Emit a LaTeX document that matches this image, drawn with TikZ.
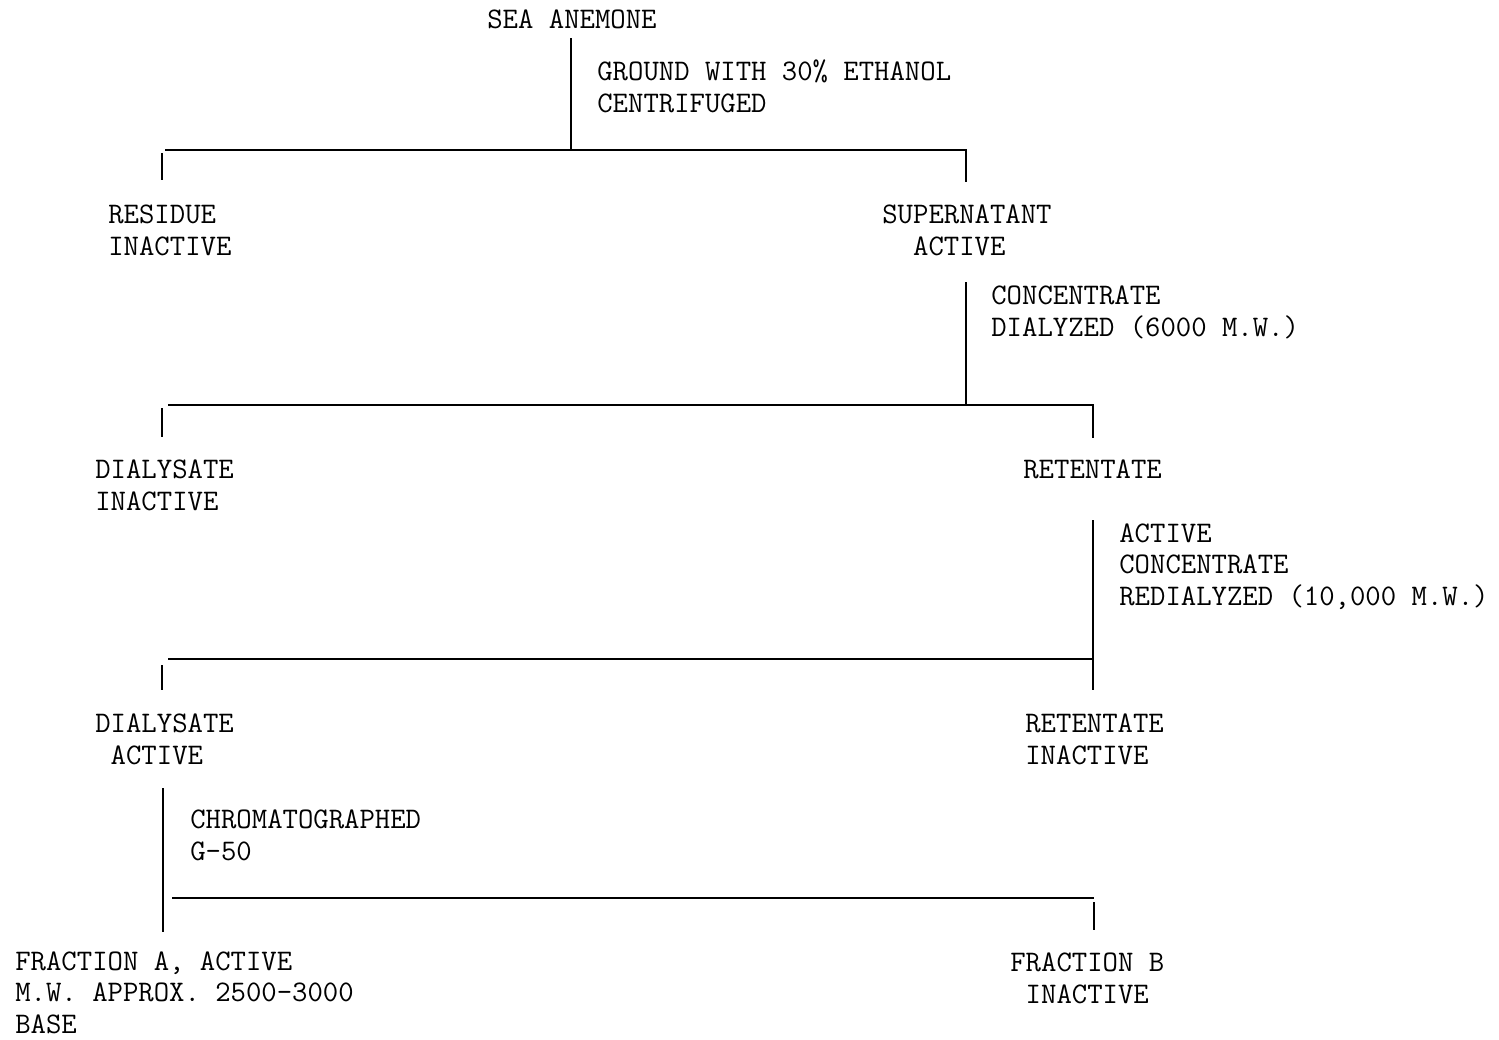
\documentclass[tikz,border=0pt]{standalone}
\usepackage{fontspec}
\usetikzlibrary{calc}
\tikzset{
    paso/.style={
        font=\fontsize{17}{17.9}\selectfont\ttfamily,
        inner sep=0pt, align=left, anchor=base west
    },
    rama/.style={line width=0.9pt}
}

\begin{document}
\begin{tikzpicture}[x=0.02cm, y=-0.02cm]
    \useasboundingbox (0,0) rectangle (1499,1039);

    % Productos de cada paso (base = ultima linea)
    \node[paso] (anemona) at (487,28) {SEA ANEMONE};
    \node[paso] (residuo) at (108,255) {RESIDUE\\INACTIVE};
    \node[paso] (sobrenadante) at (882,255) {SUPERNATANT\\\hphantom{SU}ACTIVE};
    \node[paso] (dializadoA) at (95,510) {DIALYSATE\\INACTIVE};
    \node[paso] (retenidoA) at (1023,478) {RETENTATE};
    \node[paso] (dializadoB) at (95,764) {DIALYSATE\\\hphantom{D}ACTIVE};
    \node[paso] (retenidoB) at (1025,764) {RETENTATE\\INACTIVE};
    \node[paso] (fraccionA) at (15,1033) {FRACTION A, ACTIVE\\M.W. APPROX. 2500-3000\\BASE};
    \node[paso] (fraccionB) at (1010,1003) {FRACTION B\\\hphantom{F}INACTIVE};

    % Tratamientos
    \node[paso] (molido) at (597,112) {GROUND WITH 30\% ETHANOL\\CENTRIFUGED};
    \node[paso] (dialisis) at (991,336) {CONCENTRATE\\DIALYZED (6000 M.W.)};
    \node[paso] (redialisis) at (1119,605) {ACTIVE\\CONCENTRATE\\REDIALYZED (10,000 M.W.)};
    \node[paso] (cromato) at (190,860) {CHROMATOGRAPHED\\G-50};

    % Primera separacion
    \coordinate (A0) at (571,38);
    \coordinate (A1) at (571,150);
    \coordinate (A2) at (165,150);
    \coordinate (A3) at (966,150);
    \draw[rama] (A0) -- (A1);
    \draw[rama] (A2) -- (A3) -- (966,182);
    \draw[rama] (162,153) -- (162,180);

    % Dialisis
    \coordinate (B0) at (966,282);
    \coordinate (B1) at (966,405);
    \coordinate (B2) at (168,405);
    \coordinate (B3) at (1093,405);
    \draw[rama] (B0) -- (B1);
    \draw[rama] (B2) -- (B3) -- (1093,438);
    \draw[rama] (162,408) -- (162,437);

    % Redialisis
    \coordinate (C0) at (1093,520);
    \coordinate (C1) at (1093,690);
    \coordinate (C2) at (168,659);
    \coordinate (C3) at (1093,659);
    \draw[rama] (C0) -- (C1);
    \draw[rama] (C2) -- (C3);
    \draw[rama] (162,665) -- (162,690);

    % Cromatografia
    \coordinate (D0) at (163,788);
    \coordinate (D1) at (163,932);
    \coordinate (D2) at (172,898);
    \coordinate (D3) at (1094,898);
    \draw[rama] (D0) -- (D1);
    \draw[rama] (D2) -- (D3);
    \draw[rama] (1094,902) -- (1094,930);

\end{tikzpicture}
\end{document}
